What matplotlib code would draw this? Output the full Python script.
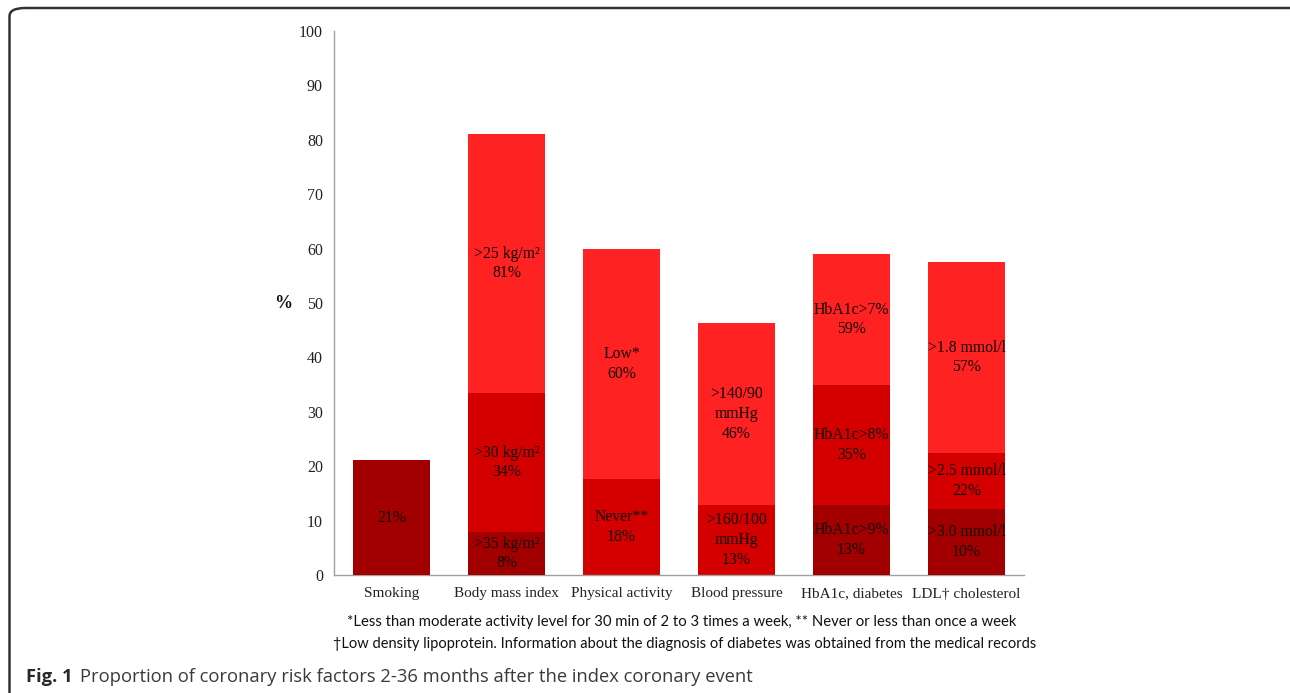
import numpy as np
import matplotlib
matplotlib.use("Agg")
import matplotlib.pyplot as plt
from matplotlib.patches import FancyBboxPatch

categories = ["Smoking", "Body mass index", "Physical activity", "Blood pressure",
              "HbA1c, diabetes", "LDL\u2020 cholesterol"]

# overlapping bars (each drawn from 0)
bright = [np.nan, 81.0, 60.0, 46.3, 59.0, 57.5]
mid = [np.nan, 33.5, 17.6, 12.9, 34.9, 22.4]
dark = [21.1, 7.9, np.nan, np.nan, 12.9, 12.1]

bright_labels = ["", ">25 kg/m\u00b2\n81%", "Low*\n60%", ">140/90\nmmHg\n46%",
                 "HbA1c>7%\n59%", ">1.8 mmol/l\n57%"]
mid_labels = ["", ">30 kg/m\u00b2\n34%", "Never**\n18%", ">160/100\nmmHg\n13%",
              "HbA1c>8%\n35%", ">2.5 mmol/l\n22%"]
dark_labels = ["21%", ">35 kg/m\u00b2\n8%", "", "", "HbA1c>9%\n13%", ">3.0 mmol/l\n10%"]

yticks = [0, 10, 20, 30, 40, 50, 60, 70, 80, 90, 100]

footnote1 = "*Less than moderate activity level for 30 min of 2 to 3 times a week, ** Never or less than once a week"
footnote2 = "\u2020Low density lipoprotein. Information about the diagnosis of diabetes was obtained from the medical records"
caption_bold = "Fig. 1"
caption_text = "Proportion of coronary risk factors 2-36 months after the index coronary event"

C_BRIGHT = "#FF2222"
C_MID = "#D40000"
C_DARK = "#A20000"
SERIF = "Liberation Serif"

W, H = 1290, 693
fig = plt.figure(figsize=(W / 100, H / 100), dpi=100)

ax = fig.add_axes([334 / W, 1 - 575 / H, 690 / W, 544 / H])
x = np.arange(len(categories))
bw = 0.67
ax.bar(x, bright, width=bw, color=C_BRIGHT, zorder=1)
ax.bar(x, mid, width=bw, color=C_MID, zorder=2)
ax.bar(x, dark, width=bw, color=C_DARK, zorder=3)

b = np.array(bright, dtype=float)
m = np.array(mid, dtype=float)
d = np.array(dark, dtype=float)
lab_kw = dict(ha="center", va="center", fontsize=11.3, family=SERIF,
              color="#140000", zorder=5, linespacing=1.3)
for i in range(len(categories)):
    d0 = 0.0 if np.isnan(d[i]) else d[i]
    m0 = d0 if np.isnan(m[i]) else m[i]
    if bright_labels[i]:
        ax.text(i, (m0 + b[i]) / 2, bright_labels[i], **lab_kw)
    if mid_labels[i]:
        ax.text(i, (d0 + m[i]) / 2, mid_labels[i], **lab_kw)
    if dark_labels[i]:
        ax.text(i, d[i] / 2, dark_labels[i], **lab_kw)

ax.set_xlim(-0.5, len(categories) - 0.5)
ax.set_ylim(0, 100)
ax.set_yticks(yticks)
ax.set_xticks(x)
ax.set_xticklabels(categories, family=SERIF, fontsize=11)
for lab in ax.get_yticklabels():
    lab.set_family(SERIF)
    lab.set_fontsize(11.5)
ax.tick_params(axis="both", length=0, colors="#222222")
ax.tick_params(axis="y", pad=8)
ax.tick_params(axis="x", pad=9)
for s in ["top", "right"]:
    ax.spines[s].set_visible(False)
for s in ["left", "bottom"]:
    ax.spines[s].set_color("#A0A0A0")
    ax.spines[s].set_linewidth(1.0)
ax.text(-0.074, 50, "%", transform=ax.get_yaxis_transform(), ha="center", va="center",
        fontweight="bold", family=SERIF, fontsize=13, color="#111111")

fig.text(682 / W, 1 - 622 / H, footnote1, ha="center", va="center",
         family="Lato", fontsize=10.7, color="#111111")
fig.text(685 / W, 1 - 644 / H, footnote2, ha="center", va="center",
         family="Lato", fontsize=10.55, color="#111111")

t1 = fig.text(26 / W, 1 - 677 / H, caption_bold, ha="left", va="center",
              family="Open Sans", fontweight="bold", fontsize=13.2, color="#2a2a2a")
fig.add_artist(matplotlib.text.Annotation(
    caption_text, xy=(1, 0.5), xycoords=t1, xytext=(5.5, 0),
    textcoords="offset points", ha="left", va="center",
    family="Open Sans", fontsize=13.2, color="#3a3a3a", annotation_clip=False))

frame = FancyBboxPatch((9.5 / W, -0.2), 1.2, 1 - 8 / H + 0.2,
                       boxstyle="round,pad=0,rounding_size=0.012",
                       transform=fig.transFigure, fill=False,
                       edgecolor="#333333", linewidth=1.8, figure=fig)
fig.patches.append(frame)

fig.savefig("out.png", dpi=100)
